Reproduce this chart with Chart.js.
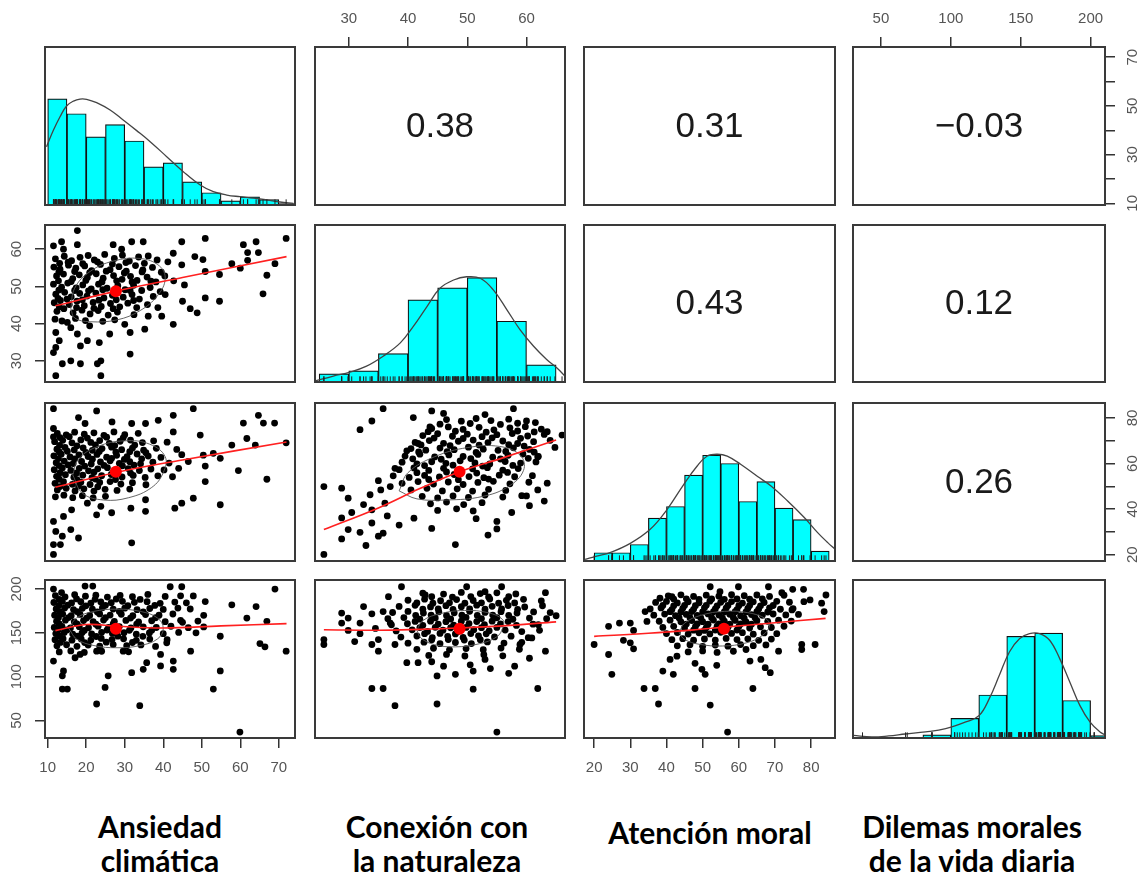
<!DOCTYPE html>
<html>
<head>
<meta charset="utf-8">
<script src="https://cdn.jsdelivr.net/npm/chart.js@4.4.1/dist/chart.umd.min.js"></script>
<style>
  body { margin: 0; background: #fff; }
  #page { position: relative; width: 1144px; height: 878px; overflow: hidden; background: #fff; }
  .vlab { position: absolute; font-family: Lato, "Open Sans", sans-serif; font-weight: 700; font-size: 30px;
          color: #000; text-align: center; line-height: 34px; white-space: nowrap; }
</style>
</head>
<body>
<div id="page"></div>
<script>
// ---- variables ----
const varLabels = [['Ansiedad', 'climática'], ['Conexión con', 'la naturaleza'], ['Atención moral'], ['Dilemas morales', 'de la vida diaria']];
const varRanges = [[9.3, 74.2], [24.3, 66.5], [17.2, 86.6], [30, 210.3]];
const varTicks = [[10, 20, 30, 40, 50, 60, 70], [30, 40, 50, 60], [20, 30, 40, 50, 60, 70, 80], [50, 100, 150, 200]];

// correlations shown in the upper panels (row, col)
const corrCells = [[0, 1], [0, 2], [0, 3], [1, 2], [1, 3], [2, 3]];
const corrValues = [0.38, 0.31, -0.03, 0.43, 0.12, 0.26];

// ---- histograms (bin mids + counts) ----
const ansBins = [12.5, 17.5, 22.5, 27.5, 32.5, 37.5, 42.5, 47.5, 52.5, 57.5, 62.5, 67.5, 72.5];
const ansCounts = [78, 67, 50, 59, 47, 28, 31, 17, 9, 3, 6, 4, 1];
const conBins = [27.5, 32.5, 37.5, 42.5, 47.5, 52.5, 57.5, 62.5];
const conCounts = [8, 11, 28, 81, 93, 103, 60, 17];
const atnBins = [22.5, 27.5, 32.5, 37.5, 42.5, 47.5, 52.5, 57.5, 62.5, 67.5, 72.5, 77.5, 82.5];
const atnCounts = [5, 5, 10, 26, 33, 52, 64, 59, 36, 48, 32, 25, 6];
const dilBins = [70, 90, 110, 130, 150, 170, 190, 210];
const dilCounts = [1, 4, 25, 55, 130, 134, 48, 3];
const histMax = [116, 155, 95.6, 202];

// ---- density curves ----
const ansDensX = [9.7, 11.5, 13.2, 14.9, 16.7, 18.4, 20.1, 22.7, 26.2, 29.6, 33.1, 36.6, 40.9, 45.2, 49.6, 53, 56.5, 59.9, 63.4, 66.9, 70.3, 73.8];
const ansDensY = [42.8, 55, 64.8, 72.7, 76.3, 77.8, 77.6, 75.1, 69.7, 62.4, 54.6, 46.5, 35.5, 24.5, 14.7, 9.8, 7.3, 6.1, 5.1, 3.7, 2.2, 1.2];
const conDensX = [24.3, 27.4, 30.2, 33, 35.8, 38.7, 40.9, 43.2, 45.4, 47.7, 49.9, 52.2, 54.4, 56.7, 58.9, 61.2, 63.4, 65.1, 66.5];
const conDensY = [1, 5.9, 9.8, 15.7, 25.5, 38.6, 54.9, 74.5, 92.5, 100.7, 103.9, 102.4, 90.9, 71.3, 51.7, 35.3, 22.3, 14.1, 5.9];
const atnDensX = [17.5, 20.7, 24.4, 30, 35.5, 40.2, 44.8, 48.5, 51.3, 54.1, 56.8, 60.5, 65.2, 68.9, 73.5, 78.1, 81.8, 84.6, 86.6];
const atnDensY = [1, 3, 5.1, 10.7, 19.2, 31.3, 46.4, 57.5, 63.5, 64.6, 63.5, 58.5, 51.1, 45.4, 36.3, 26.3, 17.2, 11.1, 7.1];
const dilDensX = [30.3, 43.5, 55.5, 67.5, 81.9, 96.3, 110.7, 120.3, 127.5, 134.7, 141.9, 149.1, 156.3, 163.5, 170.7, 177.9, 185.1, 192.3, 199.5, 206.7, 210.3];
const dilDensY = [3.3, 1.3, 2.6, 5.1, 7.7, 11.9, 20.5, 28.9, 50.3, 80.1, 110, 127, 133.5, 133.5, 125, 101.5, 71.7, 41.7, 20.5, 7.7, 4.2];

// ---- scatter points (x = column variable, y = row variable) ----
const s21 = [[11.5,60.9],[13.6,62],[14.1,60],[17.7,65],[17.7,61.2],[27,61.2],[29.2,60],[31.8,62],[34.8,62],[44.8,62],[50.9,62.9],[60.8,61.2],[64.1,62],[71.9,62.9],[61.9,59.1],[64.7,59.1],[61.9,57],[57.8,56.1],[60,54.9],[66.9,53],[69,56.1],[65.9,48],[54.6,53.2],[54.6,46],[50.9,54],[50.9,46.9],[48.8,42.9],[47,44],[50.3,57.2],[48.2,58],[44.8,55.8],[42.6,58.9],[45,46],[42.6,39.8],[39.6,42],[38.6,44.3],[36.1,42],[35.2,38.5],[31.4,37.6],[31.4,31.8],[30,39.8],[26.1,37.2],[23.4,34.9],[20.3,35.4],[17.7,37.2],[16,38.9],[15.1,40.3],[18.5,34],[16,30],[13.8,29.2],[11.5,32.2],[12.1,33.6],[13,35.4],[12.1,37.6],[12.1,26],[18.5,29.2],[22.9,29.2],[23.8,30],[23.8,26],[20.9,39.4],
  [12,57.4],[14.3,58.1],[16.2,56.9],[18.4,57.8],[20.5,58.3],[22.1,57.1],[24.8,58.6],[27.3,57.5],[29.4,58.4],[31.2,56.8],[33.6,57.9],[36.1,58.2],[38.4,57.1],[41.2,56.6],
  [11.6,55.2],[13.2,54.6],[15.4,55.7],[17.3,54.9],[19.6,55.5],[21.4,54.2],[23.7,55.9],[26.2,54.5],[28.5,55.3],[30.4,54.1],[32.8,55.6],[34.7,54.4],[37.2,55.1],[39.5,53.8],
  [12.3,52.8],[14.1,53.3],[16.5,52.1],[18.2,53.1],[20.3,52.4],[22.6,53.4],[24.4,52.2],[27.1,52.9],[29.3,51.9],[31.5,52.7],[33.2,51.6],[35.8,52.5],[38.1,51.2],[40.4,52.8],[42.7,51.5],[45.5,50.4],
  [11.5,50.6],[13.6,49.8],[15.2,50.9],[17.4,49.6],[19.1,50.4],[21.3,49.3],[23.2,50.6],[25.4,49.5],[28.2,50.2],[30.1,49.1],[32.3,50.3],[34.4,48.9],[36.6,49.7],[39.2,48.6],
  [12.1,47.9],[14.4,48.4],[16.1,47.2],[18.3,48.1],[20.2,47.4],[22.5,48.2],[24.6,46.9],[26.8,47.6],[29.6,47.1],[31.9,47.8],[33.8,46.6],[37.4,47.3],[40.5,47.8],
  [11.7,45.6],[13.3,46.2],[15.6,45.1],[17.6,46],[19.5,44.8],[21.8,45.7],[23.9,44.6],[26.3,45.4],[28.7,44.5],[30.8,45.5],[33.1,44.3],[35.9,45.1],
  [12.4,43.3],[14.2,44],[16.6,42.9],[18.9,43.6],[21,42.6],[23.1,43.5],[25.7,42.3],[28.1,43.1],[32.4,42.4],
  [11.9,41.2],[13.7,40.7],[17.2,41.4],[19.8,40.8],[24.3,40.6],[27.4,41],
  [13.1,56.2],[15.3,56.5],[19.1,56.1],[22.9,56.6],[26.8,56],[30.3,56.4],[35.1,56.2],
  [12.9,53.9],[17,54],[20.9,53.7],[25.2,54.1],[29.9,53.6],[34.5,53.9],
  [12.8,51.5],[16.1,51.3],[19.9,51.6],[24.1,51.2],[27.9,51.5],[31.9,51.2],[36.8,51.4],
  [12.9,49],[17,48.9],[20.6,48.8],[24.3,49.1],[27.5,48.7],[31.4,48.9],
  [12.7,46.8],[15,46.6],[19,46.4],[23.3,46.3],[27.8,46.4],[32.3,46.2],
  [13,44.5],[17.5,44.3],[22,44.1],[27,44]];

const s31 = [[11.5,84.1],[22.7,83.1],[47.8,84.1],[42.6,81.2],[64.7,81.2],[60.8,77.8],[66,77.8],[68.9,77.8],[71.9,69.1],[61.7,71],[63.9,68.1],[57.8,68.1],[59.5,56.9],[66.9,53.1],[54.8,62.3],[53,64.5],[50.4,63.7],[49.6,72.5],[50.9,52.1],[54.8,41.9],[50.9,58.9],[47.8,44.8],[44.8,42.6],[43,40.4],[35.4,39],[31.8,25.2],[42.6,73.9],[38.7,79],[35.4,77.6],[31.8,77.6],[26.7,78.3],[18,80.2],[19.7,77.6],[11.5,75.4],[11.5,71.7],[11.5,34.6],[12.1,30.2],[11.5,24.4],[13.3,24.4],[11.5,20.1],[13.8,28.1],[16,31],[18,27.3],[14.1,36.8],[16.2,39.7],[22.7,37.5],[26.6,38.4],[23.8,41.2],[20.3,42.6],[31.6,40.4],[35.4,44.1],
  [12.5,73.2],[14.8,72.6],[17,73.8],[19.5,72.9],[22,73.5],[24.6,72.4],[27.2,73.9],[30,72.7],[33.5,73.3],
  [11.8,69.6],[13.9,70.2],[16.3,69.1],[18.6,70.4],[21.2,69.3],[23.5,70.1],[26,68.9],[28.8,69.8],[31.5,70.3],[34.6,69.2],[37.5,70],[41,69.4],
  [12.4,66.3],[14.5,67.1],[16.9,66],[19.2,66.9],[21.6,65.8],[24.1,66.6],[26.6,67.2],[29.2,66.1],[32,66.8],[34.9,65.9],[38.2,66.7],[43.5,66.2],
  [11.6,63.4],[13.5,64.1],[15.8,62.9],[18.1,63.8],[20.5,63.1],[22.8,64],[25.3,62.8],[27.9,63.6],[30.6,63],[33.2,64.2],[36.1,63.3],[39.4,62.7],[44.8,63.9],
  [12.2,60.4],[14.3,61.1],[16.6,60],[18.8,60.9],[21.3,59.8],[23.7,60.7],[26.2,61.2],[28.6,60.1],[31.3,60.8],[34.1,59.9],[37.3,60.6],[41.5,60.2],[46.5,60.9],
  [11.7,57.3],[13.8,58.1],[16,57],[18.2,57.9],[20.6,56.8],[23,57.7],[25.5,58.2],[28.1,57.1],[30.9,57.8],[33.8,56.9],[36.8,57.6],[40.2,57.2],[44,57.9],
  [12.3,54.4],[14.6,55.1],[16.8,54],[19.1,54.9],[21.5,53.8],[24,54.7],[26.5,55.2],[29.3,54.1],[32.2,54.8],[35.3,53.9],[38.6,54.6],[42.4,54.2],
  [11.9,51.3],[14.1,52],[16.4,50.9],[18.6,51.8],[21,50.8],[23.5,51.7],[26.2,52.1],[29,51],[32,51.6],[35.5,50.7],
  [12.5,48.4],[14.8,49.1],[17.1,48],[19.4,48.9],[22,47.9],[24.9,48.7],[28,48.2],[31.3,48.8],
  [12,45.4],[14.2,46.1],[16.5,45],[19,45.9],[21.8,44.9],[25,45.6],
  [13.2,71.4],[15.6,71.8],[20.3,71.2],[25.3,71.6],[29.6,71.3],
  [13.1,68],[17.6,67.8],[22.4,68.2],[27.4,67.9],[32.6,68.1],
  [13,65.1],[15.1,65.4],[19.9,64.9],[23.4,65.3],[27.7,65],[31.3,65.2],[35.5,64.8],
  [12.8,62.2],[17,62],[21.6,61.9],[26.6,62.3],[29.9,61.8],[34.4,62.1],
  [13,59.1],[15.3,59.4],[19.6,58.9],[24.6,59.2],[29.4,59],[32.4,59.3],
  [13.2,56],[17.5,55.9],[22,56.2],[27,56],[31.5,55.8],
  [13,53.1],[17.6,52.9],[22.4,53.2],[27.6,53],
  [13.2,49.9],[18,50.1],[23,49.8]];

const s32 = [[25.8,20.1],[25.8,49.9],[28.8,49.2],[29.9,44.8],[28.8,36.1],[29.9,31],[28.8,26.9],[31.9,29.8],[32.9,24],[33.9,33.9],[33.9,39.7],[35,28.1],[35.8,29.4],[31.9,74.9],[33.9,78.7],[35.8,84.1],[40.9,80.2],[44,83.1],[48,24.4],[57.8,84.1],[64.8,67.1],[61.9,48.4],[61.9,63],[55,31.3],[55,34.6],[60,45.8],[35,52.5],[37.8,57.9],[39.8,65.6],[41.7,68.8],[43.7,76.1],[37,49.9],[33.6,46.3],[35.4,48.4],[36.1,42.6],[30.5,38.5],[32.5,42],[36.5,37],[38.5,33],[41,36],[44,31.5],[51.5,35.8],[53.5,28.6],[57.5,38.5],[60.5,41.5],[63,43.5],[46,82],[53,81.5],[61.5,78],[63.5,74],[66,72.5],
  [46.5,79.3],[49,78.6],[51.5,79.8],[54,78.9],[57,79.5],[60,78.7],
  [44,75.4],[46.8,76.1],[49.3,75],[52,75.9],[54.5,74.8],[57.2,75.7],[59.8,76.2],[62.5,75.1],
  [42.5,72.3],[45,73.1],[47.5,72],[50,72.9],[52.5,71.8],[55,72.7],[57.6,73.2],[60.2,72.1],[63,72.8],
  [41.2,69.3],[43.6,70.1],[46,68.9],[48.5,69.8],[51,70.3],[53.5,69.2],[56,69.9],[58.5,68.8],[61.2,69.6],[64,70.2],
  [40.5,66.6],[43,65.9],[45.4,66.8],[47.8,66.1],[50.2,67.2],[52.7,66.3],[55.2,65.8],[57.8,66.9],[60.5,66.2],
  [39.5,63.3],[42,64.1],[44.5,62.9],[46.9,63.8],[49.3,63.1],[51.8,64],[54.3,62.8],[56.9,63.6],[59.4,64.2],[62,63.1],
  [39,60.6],[41.5,59.9],[44,60.8],[46.4,60.1],[48.8,61.2],[51.3,60.3],[53.8,59.8],[56.4,60.9],[59,60.2],[61.6,60.7],
  [38.5,57.3],[41,58.1],[43.5,57],[46,57.9],[48.4,56.8],[50.9,57.7],[53.4,58.2],[56,57.1],[58.6,57.8],
  [37.5,54.6],[40.2,53.9],[42.8,54.8],[45.3,54.1],[47.8,55.2],[50.3,54.3],[52.8,53.8],[55.4,54.9],[58,54.2],[61,54.7],
  [39,51.3],[41.7,52.1],[44.3,51],[46.8,51.9],[49.3,50.8],[51.8,51.7],[54.4,52.2],[57.2,51.1],[60.4,51.8],[63.5,51.4],
  [40.5,48.4],[43.2,49.1],[45.8,48],[48.3,48.9],[50.9,47.9],[53.6,48.7],[56.5,48.2],
  [42.4,45.6],[45,44.9],[47.6,45.8],[50.2,45.1],[53,46.2],[56,45.3],[59.2,45.9],
  [43.8,42.3],[46.5,43.1],[49.4,42],[52.5,42.8],
  [45,39.4],[48.2,40.1],[51,39.2],
  [45.4,77.3],[50.5,77.6],[55.6,77.2],[58.5,77.7],
  [43.4,74],[48,74.2],[53.2,73.8],[58.5,74.3],[61.3,73.9],
  [44.4,71.2],[49.3,71],[54.2,71.3],[59,71.1],
  [42.2,68.2],[47.1,67.9],[52,68.1],[57,68.3],[59.6,67.7],
  [41.8,65.1],[46.6,65.2],[51.5,64.9],[56.5,65.3],[61.3,65],
  [40.8,62.1],[45.6,61.9],[50.6,62.2],[55.6,62],[60.3,62.3],
  [42.8,59.1],[47.6,59.3],[52.6,58.9],[57.7,59.2],
  [41.5,56],[46.5,56.3],[51.6,55.8],[56.8,56.1],
  [43.5,53],[48.5,52.9],[53.6,53.2]];

const s41 = [[11.5,200],[13.6,195.9],[19.7,203.4],[21.7,203.4],[41.8,202.6],[44.8,202.6],[50.9,185.7],[47.8,192.1],[69,200],[57.8,182],[64.1,180],[61.7,166.8],[66.9,163.1],[65.1,137.8],[66.4,134],[71.9,129.1],[54.8,146.1],[54.8,106.5],[53,85.8],[59.9,36.8],[47.1,129.1],[42.6,117.8],[42.6,108.4],[39.3,112.2],[35.7,116],[34.8,108.4],[33.9,66.9],[31.8,104.6],[29.6,129.1],[25.7,100.9],[24.9,87.7],[22.7,68.8],[22.7,129.1],[18.4,125.4],[14.1,106.5],[13.8,100.9],[13.8,85.8],[15.1,85.8],[11.5,117.8],[17.1,121.6],[40.9,138.6],[39.3,125.4],[48.5,150],[50.5,170],[45,162],
  [12,192.5],[14.5,191],[17,193.5],[19.8,191.8],[22.5,193],[25.5,190.8],[28.8,192.7],[32,191.3],[36,193.8],[40.5,191.6],[44.5,192.2],
  [11.6,184.6],[13.8,185.8],[16.2,184.1],[18.6,185.5],[21.2,183.9],[23.8,185.2],[26.5,184.4],[29.4,186],[32.5,184.8],[35.8,185.6],[39.2,183.7],[43,185.1],[46,184.3],
  [12.2,177.3],[14.4,178.4],[16.7,176.6],[19,178],[21.6,176.9],[24.2,178.6],[27,177.1],[30,178.2],[33.2,176.4],[36.5,177.8],[40,176.7],[43.8,178.3],[47,177.2],
  [11.8,170.2],[13.9,171.4],[16.1,169.6],[18.4,171],[20.9,169.8],[23.5,171.6],[26.2,170.3],[29.1,171.2],[32.1,169.5],[35.4,170.9],[38.9,170.1],[42.5,171.5],
  [12.3,163.2],[14.6,164.4],[16.9,162.6],[19.3,164],[21.8,162.9],[24.5,164.6],[27.3,163.1],[30.3,164.2],[33.6,162.4],[37,163.8],[40.5,162.7],[44.5,164.3],[49,163.4],
  [11.7,156.2],[13.7,157.4],[15.9,155.6],[18.2,157],[20.6,155.8],[23.1,157.6],[25.8,156.3],[28.6,157.2],[31.6,155.5],[34.8,156.9],[38.2,156.1],[42,157.5],[46.5,155.9],[50.5,156.8],
  [12.1,149.2],[14.3,150.4],[16.5,148.6],[18.9,150],[21.4,148.8],[24,150.6],[26.8,149.3],[29.8,150.2],[33,148.5],[36.4,149.9],[40,149.1],[44,150.5],
  [11.9,142.2],[14,143.4],[16.3,141.6],[18.7,143],[21.2,141.8],[23.9,143.6],[26.7,142.3],[29.7,143.2],[33,141.5],[36.5,142.9],[41,142.1],
  [12.4,135.2],[14.9,136.4],[17.6,134.6],[20.5,136],[23.5,134.8],[27,136.6],[30.5,135.3],[34.2,136.2],[38,134.5],
  [13,128.2],[16,129.4],[19.5,127.6],[24,129],[31,128.3],
  [13,188.3],[17.5,188.7],[22.3,188.2],[27.8,188.6],[34,188.1],
  [12.9,181.2],[15.2,181.6],[19.9,180.8],[25,181.4],[30.8,180.9],[37.8,181.3],
  [13.1,174.1],[17.6,174.3],[22.9,173.8],[28.6,174.4],[34.8,174],
  [12.8,167.1],[15.4,167.4],[20.1,166.8],[25,167.3],[31.5,166.9],[38,167.2],
  [13,160.1],[17.6,160.3],[22.5,159.8],[27,160.2],[33.1,159.9],
  [12.7,153.1],[15,153.3],[19.5,152.8],[25.4,153.2],[31.2,152.9],[37,153.1],
  [13.1,146.1],[17.7,146.3],[22.6,145.8],[28.2,146.2],[34.7,146],
  [13.3,139.1],[19.6,138.9],[25.2,139.3],[32,139]];

const s42 = [[25.8,142.3],[25.8,136.7],[28.8,172.5],[28.8,161.2],[29.9,166.9],[29.9,152.8],[31.9,161.2],[31.9,149.1],[33.9,171.7],[33.9,136.7],[33.9,86.5],[35.8,86.5],[35.8,174.3],[36.7,191.3],[38.9,202.6],[37.8,66.9],[35,142.3],[35,129.1],[37,161.2],[37.8,136.7],[39.8,116],[41.7,116],[42.9,193.2],[44.9,68.8],[44.9,100.8],[48,102.7],[51,85.7],[51,106.4],[49.9,202.6],[53,197],[55.8,202.6],[55,36.8],[57,103.8],[53.9,109.2],[61.9,86.5],[63.2,129.1],[63.2,195.8],[65,169.5],[62,159.3],[60.9,144.2],[58.9,136.7],[53,119.7],[32.5,180],[34.5,155],[31,140],[46,112],[50.5,113.5],[58,112],[60.5,121],[44,117],
  [42.5,195.3],[46,194.2],[49,196.1],[52.2,194.8],[55,195.7],[58.2,194.4],
  [40,187.2],[42.8,188.4],[45.5,186.6],[48.2,188],[51,186.9],[53.8,188.6],[56.6,187.1],[59.5,188.2],[62.5,186.5],
  [38.5,180.2],[41.2,181.4],[43.8,179.6],[46.4,181],[49,179.8],[51.6,181.6],[54.2,180.3],[56.9,181.2],[59.7,179.5],[62.7,180.9],
  [37.4,173.2],[40,174.4],[42.6,172.6],[45.2,174],[47.8,172.8],[50.4,174.6],[53,173.3],[55.7,174.2],[58.4,172.5],[61.2,173.9],[64,173.1],
  [36.6,166.2],[39.3,167.4],[42,165.6],[44.6,167],[47.2,165.8],[49.8,167.6],[52.4,166.3],[55,167.2],[57.7,165.5],[60.5,166.9],[63.4,166.1],
  [37.2,159.2],[39.9,160.4],[42.5,158.6],[45.1,160],[47.7,158.8],[50.3,160.6],[52.9,159.3],[55.6,160.2],[58.3,158.5],[61.1,159.9],
  [38,152.2],[40.7,153.4],[43.3,151.6],[45.9,153],[48.5,151.8],[51.1,153.6],[53.7,152.3],[56.4,153.2],[59.2,151.5],[62.2,152.9],
  [38.8,145.2],[41.5,146.4],[44.1,144.6],[46.7,146],[49.3,144.8],[51.9,146.6],[54.6,145.3],[57.4,146.2],[60.3,144.5],
  [40,138.2],[42.7,139.4],[45.4,137.6],[48,139],[50.7,137.8],[53.4,139.6],[56.2,138.3],[59.2,139.2],
  [41.5,131.2],[44.3,132.4],[47,130.6],[49.8,132],[52.7,130.8],[55.7,132.6],[58.8,131.3],
  [43.5,124.2],[46.5,125.4],[49.6,123.6],[52.8,125],[56,123.8],
  [44,191.2],[47.5,190.8],[50.6,191.4],[53.6,191],[57,191.3],
  [41.5,184.1],[44.2,183.8],[47,184.3],[49.6,183.9],[52.4,184.2],[55.3,183.8],[58,184.1],
  [42.5,177],[45.1,177.3],[47.6,176.8],[50.4,177.2],[53,176.9],[55.8,177.2],[58.5,176.8],
  [41.3,170],[43.9,170.3],[46.5,169.8],[49.1,170.2],[51.7,169.9],[54.3,170.3],[57,170],
  [41.2,163],[43.8,163.3],[46.4,162.8],[49,163.2],[51.6,162.9],[54.2,163.3],[56.9,162.9],
  [42,156],[44.6,156.3],[47.2,155.8],[49.8,156.2],[52.4,155.9],[55,156.2],
  [42.8,149],[45.4,149.3],[48,148.8],[50.6,149.2],[53.2,148.9],
  [44,142],[46.8,142.3],[49.5,141.8],[52.2,142.2]];

const s43 = [[20,136.7],[24,157.4],[24,125.3],[24.9,102.7],[27,161.2],[28.1,141.5],[30,161.2],[30,138.6],[30.9,131.8],[30.9,152.8],[33.8,86.5],[36.9,86.5],[37.8,68.8],[39,106.4],[41,119.7],[41.9,102.7],[42.9,123.4],[47.9,86.5],[47.9,115.2],[49.8,108.4],[50.7,102.7],[52.1,67.6],[52.1,202.6],[53.9,112.9],[56.9,36.8],[59.9,202.6],[62,131],[63.1,117.8],[63.9,86.5],[66.1,119.7],[67.3,110.3],[68.7,104.6],[68.2,202.6],[71,129.1],[71.9,195.8],[74.9,199.7],[77.9,199.7],[77.4,136.7],[77.4,131],[81.1,136.7],[84.1,193.2],[83.6,174.3],[82.9,183.8],[79.7,187.6],[74.7,176.2],[38.2,189.5],[41.5,191.3],[34.6,163],[34.1,174.3],[54.8,197],
  [40.5,192.2],[44,193.4],[47.5,191.6],[51,193],[54.5,191.8],[58,193.6],[61.5,192.3],[65,193.2],[68.5,191.5],[72.5,192.9],
  [37,184.7],[40,185.9],[43,184.1],[46,185.5],[49,184.3],[52,186.1],[55,184.8],[58,185.7],[61,184],[64,185.4],[67,184.6],[70.5,186],[74,184.9],[78,185.6],
  [35.5,177.2],[38.5,178.4],[41.5,176.6],[44.5,178],[47.5,176.8],[50.5,178.6],[53.5,177.3],[56.5,178.2],[59.5,176.5],[62.5,177.9],[65.5,177.1],[68.5,178.5],[71.5,176.9],[75,177.7],
  [36.5,170.2],[39.5,171.4],[42.5,169.6],[45.5,171],[48.5,169.8],[51.5,171.6],[54.5,170.3],[57.5,171.2],[60.5,169.5],[63.5,170.9],[66.5,170.1],[69.5,171.5],[73,170.4],[76.5,171],
  [38,163.2],[41,164.4],[44,162.6],[47,164],[50,162.8],[53,164.6],[56,163.3],[59,164.2],[62,162.5],[65,163.9],[68,163.1],[71,164.5],[74.5,163.4],
  [39,156.2],[42,157.4],[45,155.6],[48,157],[51,155.8],[54,157.6],[57,156.3],[60,157.2],[63,155.5],[66,156.9],[69,156.1],[72.5,157.5],
  [40,149.2],[43,150.4],[46,148.6],[49,150],[52,148.8],[55,150.6],[58,149.3],[61,150.2],[64,148.5],[67,149.9],[70.5,149.1],
  [41.5,142.2],[44.5,143.4],[47.5,141.6],[50.5,143],[53.5,141.8],[56.5,143.6],[59.5,142.3],[62.5,143.2],[65.5,141.5],[69,142.9],
  [43,135.2],[46.5,136.4],[50,134.6],[53.5,136],[57,134.8],[60.5,136.6],[64,135.3],[67.5,136.2],
  [46,128.2],[50,129.4],[54,127.6],[58.5,129],
  [42,188.5],[45.5,188.8],[49,188.3],[52.5,188.7],[56,188.2],[59.5,188.6],[63,188.4],[66.5,188.8],
  [39,181.2],[42,180.8],[45,181.3],[48,180.9],[51,181.4],[54,180.8],[57,181.2],[60,180.9],[63,181.3],[66,180.8],[69.5,181.2],
  [41,174.1],[44,173.8],[47,174.3],[50,173.9],[53,174.2],[56,173.8],[59,174.1],[62,173.9],[65,174.2],[68,173.8],
  [43.5,167],[46.5,167.3],[49.5,166.8],[52.5,167.2],[55.5,166.9],[58.5,167.3],[61.5,166.8],[64.5,167.1],
  [45.5,160],[48.5,160.3],[51.5,159.8],[54.5,160.2],[57.5,159.9],[60.5,160.2],[63.5,159.8],
  [47.5,153.1],[50.5,152.8],[53.5,153.2],[56.5,152.9],[59.5,153.2]];

// ---- smoothers (red), means (red dot), correlation ellipses ----
const fit21 = [[12,44.8],[28,48.8],[45,52.4],[72,58]];
const fit31 = [[12,49.6],[28,56.2],[45,61.6],[72,69.5]];
const fit32 = [[25.8,31],[35,40.5],[42,49],[48.7,56.4],[56,62.5],[65,70.3]];
const fit41 = [[12,152.5],[20,159.5],[28,157.5],[40,155.5],[55,158],[72,160.5]];
const fit42 = [[25.8,153.5],[35,153],[42,154],[48.7,155.5],[56,158],[65,162.5]];
const fit43 = [[20,146],[35,149.5],[48,153.5],[56,156.5],[70,161.5],[84,166.5]];
const mean21 = [27.7, 48.7], mean31 = [27.7, 56.4], mean32 = [48.7, 56.4];
const mean41 = [27.7, 154.8], mean42 = [48.7, 154.8], mean43 = [55.9, 154.8];
const ell21 = [[16,44],[17,49.5],[21,54],[27,56.8],[34,57.5],[39,55.5],[40.5,52],[38.5,47.5],[34,43.5],[28,41],[21,40.5],[17,41.5],[16,44]];
const ell31 = [[16.5,55],[18,62],[23,67.5],[30,70],[36.5,68.5],[40.5,63],[40,56],[37,49.5],[31,45],[24.5,44],[19,47],[16.5,55]];
const ell32 = [[38.5,48],[40,56],[44.5,63],[50,67],[55.5,67.5],[59,63.5],[59.5,57],[57,50],[52.5,45.5],[46.5,44],[41.5,44.5],[38.5,48]];
const ell41 = [[15.5,155],[17.5,167],[22,174.5],[28,177],[34,174.5],[38.5,167],[40,155],[38.5,143],[34,135.5],[28,133],[22,135.5],[17.5,143],[15.5,155]];
const ell42 = [[41.5,153],[42.5,164],[45.5,172],[49.5,175.5],[53.5,173],[56,165],[56,156],[55,145.5],[52,137.5],[48,134],[44.5,136.5],[42.2,144],[41.5,153]];
const ell43 = [[43.5,150],[45,161],[49.5,170],[56,174.5],[62.5,173],[67.5,166],[68.5,158],[66.5,147],[62,138.5],[55.5,135],[49,137],[45,142.5],[43.5,150]];

// ---- layout ----
const COLS = [[45, 295], [315, 565], [584, 835], [853, 1105]];
const ROWS = [[47, 205], [225, 382], [403, 561], [580, 738]];
const M = 45;
const TICK_FONT = { family: '"Liberation Sans", Arial, Helvetica, sans-serif', size: 15 };

Chart.defaults.animation = false;
Chart.defaults.events = [];
Chart.defaults.plugins.legend.display = false;
Chart.defaults.plugins.tooltip.enabled = false;

const hist = [[ansBins, ansCounts, ansDensX, ansDensY], [conBins, conCounts, conDensX, conDensY],
              [atnBins, atnCounts, atnDensX, atnDensY], [dilBins, dilCounts, dilDensX, dilDensY]];
const scat = { '1-0': [s21, fit21, mean21, ell21], '2-0': [s31, fit31, mean31, ell31], '2-1': [s32, fit32, mean32, ell32],
               '3-0': [s41, fit41, mean41, ell41], '3-1': [s42, fit42, mean42, ell42], '3-2': [s43, fit43, mean43, ell43] };
const rugs = [s21.map(p => p[0]), s32.map(p => p[0]), s43.map(p => p[0]), s43.map(p => p[1])];
const xy = a => a.map(p => ({ x: p[0], y: p[1] }));

const framePlugin = {
  id: 'frame',
  afterDraw(chart, args, opts) {
    const { ctx, chartArea: a } = chart;
    ctx.save();
    if (opts.text) {
      ctx.font = '35px "Liberation Sans", Arial, sans-serif';
      ctx.fillStyle = '#1a1a1a';
      ctx.textAlign = 'center';
      ctx.textBaseline = 'middle';
      ctx.fillText(opts.text, (a.left + a.right) / 2, (a.top + a.bottom) / 2 + 1);
    }
    ctx.strokeStyle = '#3a3a3a';
    ctx.lineWidth = 2;
    ctx.strokeRect(a.left, a.top, a.right - a.left, a.bottom - a.top);
    ctx.restore();
  }
};
Chart.register(framePlugin);

function axis(key, range, ticks, pos, pad, every) {
  const horiz = key === 'x';
  return {
    type: 'linear', min: range[0], max: range[1], offset: false,
    display: !!pos, position: pos || (horiz ? 'bottom' : 'left'),
    afterBuildTicks: s => { s.ticks = ticks.map(v => ({ value: v })); },
    afterFit: s => { if (!pos) return; if (horiz) s.height = M; else s.width = M; },
    grid: { drawOnChartArea: false, drawTicks: true, tickLength: 10, color: '#333', lineWidth: 1.5, offset: false },
    border: { display: false },
    ticks: {
      autoSkip: false, color: '#555', font: TICK_FONT, padding: pad,
      minRotation: horiz ? 0 : 90, maxRotation: horiz ? 0 : 90, crossAlign: horiz ? 'near' : 'center',
      callback: (v, i) => (i % every === 0 ? String(v) : '')
    }
  };
}

const page = document.getElementById('page');

for (let r = 0; r < 4; r++) {
  for (let c = 0; c < 4; c++) {
    const [x0, x1] = COLS[c], [y0, y1] = ROWS[r];
    const cv = document.createElement('canvas');
    cv.width = x1 - x0 + 2 * M;
    cv.height = y1 - y0 + 2 * M;
    cv.style.cssText = 'position:absolute;left:' + (x0 - M) + 'px;top:' + (y0 - M) + 'px;';
    page.appendChild(cv);

    const xPos = (r === 0 && (c === 1 || c === 3)) ? 'top' : (r === 3 && (c === 0 || c === 2)) ? 'bottom' : null;
    const yPos = (c === 0 && (r === 1 || r === 3)) ? 'left' : (c === 3 && (r === 0 || r === 2)) ? 'right' : null;

    let datasets = [], text = null, yRange = varRanges[r], yTicks = varTicks[r];
    if (r === c) {
      const [bins, counts, dx, dy] = hist[c];
      yRange = [0, histMax[c]];
      yTicks = [0];
      datasets = [
        { type: 'scatter', data: rugs[c].map(v => ({ x: v, y: histMax[c] * 0.02 })), pointStyle: 'line', rotation: 90,
          radius: 2.5, borderColor: '#222', borderWidth: 1, order: 0 },
        { type: 'line', data: dx.map((x, i) => ({ x, y: dy[i] })), borderColor: '#444', borderWidth: 1.3,
          pointRadius: 0, tension: 0.4, fill: false, order: 1 },
        { type: 'bar', data: bins.map((x, i) => ({ x, y: counts[i] })), backgroundColor: '#00ffff',
          borderColor: '#111', borderWidth: 1.2, barPercentage: 1, categoryPercentage: 1, order: 2 }
      ];
    } else if (r > c) {
      const [pts, fit, mean, ell] = scat[r + '-' + c];
      datasets = [
        { type: 'scatter', data: [{ x: mean[0], y: mean[1] }], pointRadius: 6, backgroundColor: '#ff0000', borderWidth: 0, order: 0 },
        { type: 'line', data: xy(fit), borderColor: '#ff2020', borderWidth: 1.6, pointRadius: 0, tension: 0.4, fill: false, order: 1 },
        { type: 'line', data: xy(ell), borderColor: '#555', borderWidth: 0.9, pointRadius: 0, tension: 0.4, fill: false, order: 2 },
        { type: 'scatter', data: xy(pts), pointRadius: 3.4, backgroundColor: '#000', borderWidth: 0, order: 3 }
      ];
    } else {
      const k = corrCells.findIndex(p => p[0] === r && p[1] === c);
      text = corrValues[k].toFixed(2).replace('-', '\u2212');
    }

    const yPad = yPos === 'left' ? (r === 3 ? 6 : 10) : 10;
    new Chart(cv, {
      type: 'scatter',
      data: { datasets },
      options: {
        responsive: false, devicePixelRatio: 1,
        layout: { padding: { left: yPos === 'left' ? 0 : M, right: yPos === 'right' ? 0 : M,
                             top: xPos === 'top' ? 0 : M, bottom: xPos === 'bottom' ? 0 : M } },
        plugins: { frame: { text } },
        scales: {
          x: axis('x', varRanges[c], varTicks[c], xPos, xPos === 'top' ? 9 : 11, 1),
          y: axis('y', yRange, yTicks, yPos, yPad, yPos === 'right' ? 2 : 1)
        }
      }
    });
  }
}

// variable names under the columns
const labelCenters = [160, 437, 710, 972];
varLabels.forEach((lines, i) => {
  const d = document.createElement('div');
  d.className = 'vlab';
  d.style.left = (labelCenters[i] - 140) + 'px';
  d.style.width = '280px';
  d.style.top = (lines.length === 1 ? 815 : 809) + 'px';
  d.innerHTML = lines.join('<br>');
  page.appendChild(d);
});
</script>
</body>
</html>
